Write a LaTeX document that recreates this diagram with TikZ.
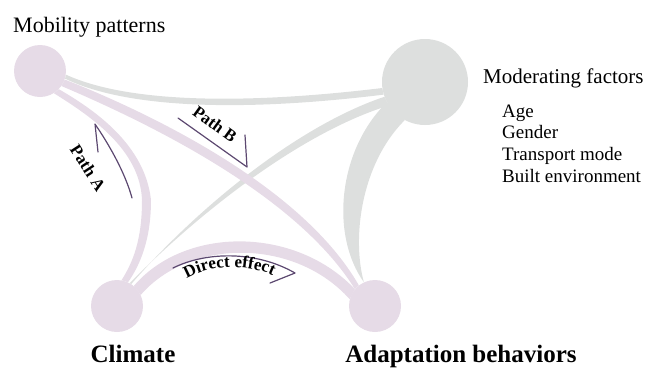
\documentclass[tikz,border=0pt]{standalone}
\usepackage{fontspec}
\setmainfont{Liberation Serif}
\usetikzlibrary{decorations.text}
\definecolor{lilac}{RGB}{230,219,231}
\definecolor{ashgrey}{RGB}{221,223,222}
\definecolor{plum}{RGB}{92,72,112}
\tikzset{
  purpleBlob/.style={circle, fill=lilac, inner sep=0pt, minimum size=#1},
  greyBlob/.style={circle, fill=ashgrey, inner sep=0pt, minimum size=#1},
  purpleBand/.style={fill=lilac},
  greyBand/.style={fill=ashgrey},
  pathArrow/.style={draw=plum, line width=1.2pt, line join=round, line cap=round},
  pathLabel/.style={font=\bfseries\fontsize{17}{17}\selectfont, inner sep=0pt},
  bigLabel/.style={font=\bfseries\fontsize{25}{25}\selectfont, inner sep=0pt, anchor=base},
  plainLabel/.style={font=\fontsize{21}{21}\selectfont, inner sep=0pt, anchor=base west}
}
\begin{document}
\begin{tikzpicture}[x=1pt, y=-1pt]
\useasboundingbox (0,0) rectangle (653,367);
% circles
\node[purpleBlob=52pt] (mobility) at (40,71) {};
\node[greyBlob=86pt] (moderating) at (425,82) {};
\node[purpleBlob=52pt] (climate) at (117,306) {};
\node[purpleBlob=52pt] (adaptation) at (375,306) {};
% grey bands
\fill[greyBand] (mobility.-8) .. controls (130,104) and (250,104) .. (moderating.188) -- (moderating.197) .. controls (250,111) and (130,110) .. (mobility.-17) -- cycle;
\fill[greyBand] (moderating.200) .. controls (300,125) and (200,205) .. (climate.57) -- (climate.61) .. controls (203,209) and (303,132) .. (moderating.213) -- cycle;
\fill[greyBand] (moderating.208) .. controls (338,150) and (330,235) .. (adaptation.115) .. controls (352,240) and (360,165) .. (moderating.242) -- cycle;
% purple bands
\fill[purpleBand] (mobility.-19) .. controls (150,113) and (302,186) .. (adaptation.128) -- (adaptation.140) .. controls (296,194) and (146,122) .. (mobility.-35) -- cycle;
\fill[purpleBand] (mobility.-44) .. controls (95,110) and (145,145) .. (151,200) .. controls (151,240) and (140,265) .. (climate.65) -- (climate.80) .. controls (133,262) and (142,240) .. (142,200) .. controls (140,150) and (92,117) .. (mobility.-58) -- cycle;
\fill[purpleBand] (climate.50) .. controls (185,226) and (295,226) .. (adaptation.140) -- (adaptation.165) .. controls (295,238) and (190,238) .. (climate.25) -- cycle;
% path arrows
\draw[pathArrow] (132,198) .. controls (125,172) and (108,143) .. (95,124) -- (98,152);
\draw[pathArrow] (178,118) -- (247,167) -- (245,135);
\draw[pathArrow] (173,268) .. controls (205,252) and (255,250) .. (295,273) -- (270,283);
% path labels
\node[pathLabel, rotate=-57] (pathA) at (88,168) {Path A};
\node[pathLabel, rotate=-36] (pathB) at (215,124) {Path B};
\path[decorate, decoration={text along path, text align=center,
  text={|\bfseries\fontsize{17}{17}\selectfont|Direct effect}}]
  (178,285) .. controls (205,262) and (255,262) .. (282,281);
% labels
\node[plainLabel, font=\fontsize{22}{22}\selectfont] (mobilityText) at (13,32) {Mobility patterns};
\node[plainLabel] (moderatingText) at (483,83) {Moderating factors};
\foreach \factor [count=\i] in {Age, Gender, Transport mode, Built environment}
  \node[plainLabel, font=\fontsize{19}{19}\selectfont] (factor\i) at (502,{117+21.7*(\i-1)}) {\factor};
\node[bigLabel] (climateText) at (133,362) {Climate};
\node[bigLabel] (adaptationText) at (461,362) {Adaptation behaviors};
\end{tikzpicture}
\end{document}
